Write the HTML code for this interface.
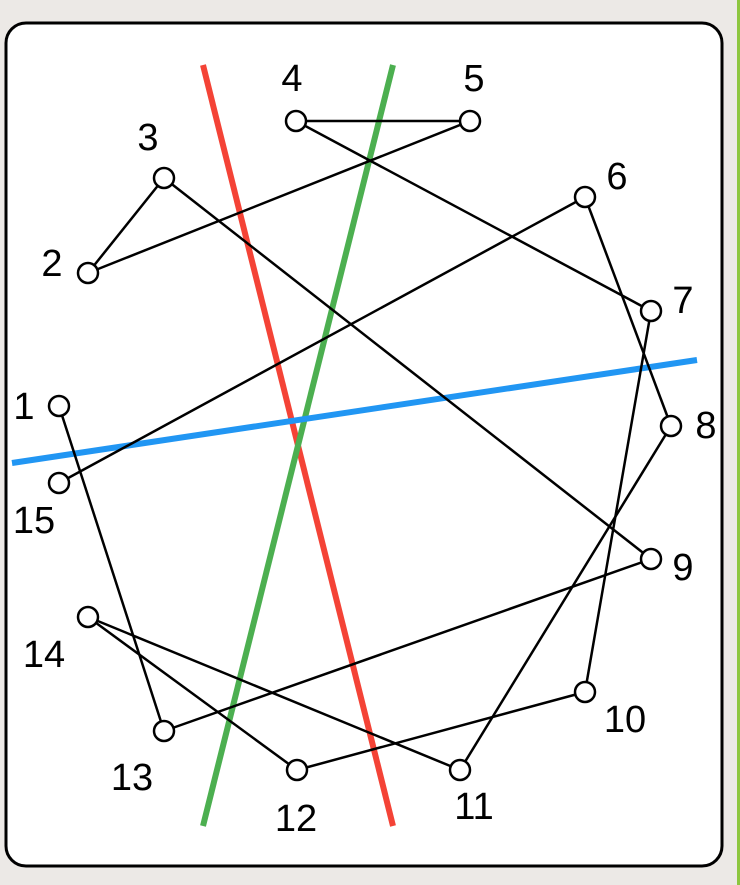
<!DOCTYPE html>
<html><head><meta charset="utf-8"><style>
html,body{margin:0;padding:0;width:740px;height:885px;overflow:hidden;background:#ece9e6}
svg{display:block}
text{font-family:"Liberation Sans",sans-serif;font-size:38px;fill:#000}
</style></head><body>
<svg id="chart" width="740" height="885" viewBox="0 0 740 885">
<rect x="737" y="0" width="3" height="885" fill="#8dc63f"/>
<rect x="6" y="23" width="716" height="843" rx="20" fill="#fff" stroke="#000" stroke-width="3"/>
<g id="lines"></g><g id="edges"></g><g id="nodes"></g>
</svg>
<script>
const nodeIds=[1,2,3,4,5,6,7,8,9,10,11,12,13,14,15];
const nodeX=[59,88,164,296,470,585,651,671,651,585,460,297,164,88,59];
const nodeY=[406,273,178,121,121,197,311,426,559,692,770,770,731,617,483];
const labelX=[24,52,148,292,474,617,683,706,683,625,474,296,132,44,34];
const labelY=[419,276,150,91,91,189,313,438,580,732,819,831,790,667,533];
const edgeFrom=[1,2,2,3,4,4,6,6,7,8,9,10,12,14];
const edgeTo=[13,3,5,9,5,7,15,8,10,11,13,12,14,11];
const lineNames=['red-line','green-line','blue-line'];
const lineColors=['#f44336','#4caf50','#2196f3'];
const lineX1=[203,393,12],lineY1=[65,65,463],lineX2=[393,203,697],lineY2=[826,826,360];
const NS='http://www.w3.org/2000/svg';
function mk(t,a,p){const e=document.createElementNS(NS,t);for(const k in a)e.setAttribute(k,a[k]);p.appendChild(e);return e;}
const L=document.getElementById('lines'),E=document.getElementById('edges'),N=document.getElementById('nodes');
lineNames.forEach((n,i)=>{const e=mk('line',{x1:lineX1[i],y1:lineY1[i],x2:lineX2[i],y2:lineY2[i],stroke:lineColors[i],'stroke-width':6},L);

});
edgeFrom.forEach((f,i)=>{const a=f-1,b=edgeTo[i]-1;
const e=mk('line',{x1:nodeX[a],y1:nodeY[a],x2:nodeX[b],y2:nodeY[b],stroke:'#000','stroke-width':2.5},E);

});
nodeIds.forEach((id,i)=>{const c=mk('circle',{cx:nodeX[i],cy:nodeY[i],r:10,fill:'#fff',stroke:'#000','stroke-width':2.5},N);


const t=mk('text',{x:labelX[i],y:labelY[i],'text-anchor':'middle'},N);t.textContent=id;

});
</script>
</body></html>
